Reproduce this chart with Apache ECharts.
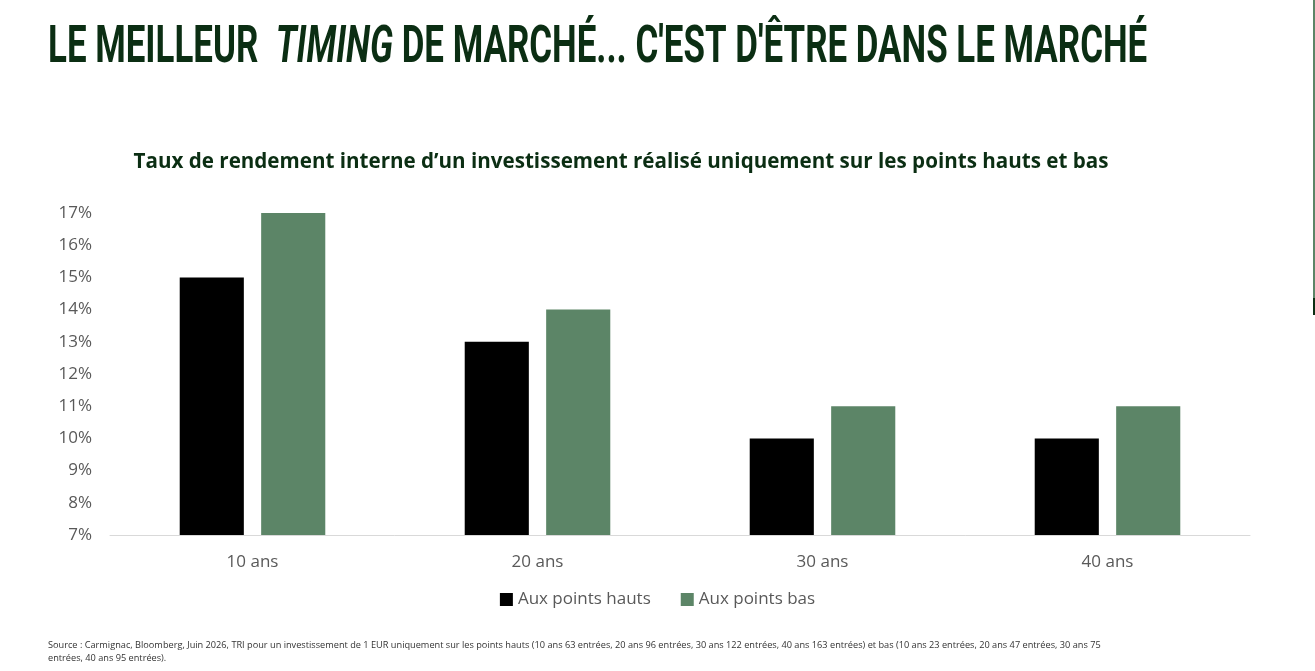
<!DOCTYPE html>
<html>
<head>
<meta charset="utf-8">
<title>Le meilleur timing de marché</title>
<script src="https://cdn.jsdelivr.net/npm/echarts@6/dist/echarts.min.js"></script>
<style>
    html, body { margin: 0; padding: 0; background: #fff; }
    #chart { width: 1315px; height: 671px; }
</style>
</head>
<body>
<div id="chart"></div>
<script>
    // données
    var categories = ['10 ans', '20 ans', '30 ans', '40 ans'];
    var hauts = [15, 13, 10, 10];   // Aux points hauts
    var bas = [17, 14, 11, 11];     // Aux points bas
    var yMin = 7, yMax = 17, yStep = 1;

    var darkGreen = '#0b2e13';
    var green = '#5c8567';
    var grey = '#595959';

    var source = 'Source : Carmignac, Bloomberg, Juin 2026, TRI pour un investissement de 1 EUR uniquement sur les points hauts (10 ans 63 entrées, 20 ans 96 entrées, 30 ans 122 entrées, 40 ans 163 entrées) et bas (10 ans 23 entrées, 20 ans 47 entrées, 30 ans 75\nentrées, 40 ans 95 entrées).';

    var chart = echarts.init(document.getElementById('chart'));

    var option = {
        backgroundColor: '#fff',
        animation: false,
        textStyle: { fontFamily: 'Open Sans' },
        grid: {
            left: 110,
            right: 65,
            top: 213,
            bottom: 136
        },
        legend: {
            data: ['Aux points hauts', 'Aux points bas'],
            left: 'center',
            top: 586,
            icon: 'rect',
            itemWidth: 13,
            itemHeight: 13,
            itemGap: 30,
            textStyle: { color: grey, fontSize: 17, fontFamily: 'Open Sans' }
        },
        xAxis: {
            type: 'category',
            data: categories,
            axisTick: { show: false },
            axisLine: { lineStyle: { color: '#d9d9d9', width: 1 } },
            axisLabel: { color: grey, fontSize: 17, margin: 19 }
        },
        yAxis: {
            type: 'value',
            min: yMin,
            max: yMax,
            interval: yStep,
            axisLine: { show: false },
            axisTick: { show: false },
            splitLine: { show: false },
            axisLabel: {
                color: grey,
                fontSize: 17,
                margin: 18,
                formatter: '{value}%'
            }
        },
        series: [
            {
                name: 'Aux points hauts',
                type: 'bar',
                data: hauts,
                barWidth: '22.5%',
                barGap: '27%',
                itemStyle: { color: '#000' }
            },
            {
                name: 'Aux points bas',
                type: 'bar',
                data: bas,
                barWidth: '22.5%',
                itemStyle: { color: green }
            }
        ],
        graphic: [
            {
                type: 'text',
                left: 48,
                top: 23,
                scaleX: 0.671,
                style: {
                    text: '{n|LE MEILLEUR  }{i|TIMING}{n| DE MARCHÉ... C\'EST D\'ÊTRE DANS LE MARCHÉ}',
                    rich: {
                        n: { fontFamily: 'Roboto', fontWeight: 'bold', fontSize: 52, fill: darkGreen },
                        i: { fontFamily: 'Roboto', fontWeight: 'bold', fontStyle: 'italic', fontSize: 52, fill: darkGreen }
                    }
                }
            },
            {
                type: 'text',
                x: 621,
                y: 162,
                style: {
                    text: 'Taux de rendement interne d’un investissement réalisé uniquement sur les points hauts et bas',
                    fontFamily: 'Open Sans',
                    fontWeight: 'bold',
                    fontSize: 20.6,
                    fill: darkGreen,
                    align: 'center',
                    verticalAlign: 'middle'
                }
            },
            {
                type: 'text',
                x: 48,
                y: 639,
                style: {
                    text: source,
                    fontFamily: 'Open Sans',
                    fontSize: 9.2,
                    lineHeight: 13,
                    fill: '#333',
                    verticalAlign: 'top'
                }
            },
            {
                // fine ligne verte au bord droit
                type: 'rect',
                shape: { x: 1313, y: 0, width: 2, height: 298 },
                style: { fill: green }
            },
            {
                type: 'rect',
                shape: { x: 1313, y: 298, width: 2, height: 17 },
                style: { fill: darkGreen }
            }
        ]
    };

    chart.setOption(option);
</script>
</body>
</html>
